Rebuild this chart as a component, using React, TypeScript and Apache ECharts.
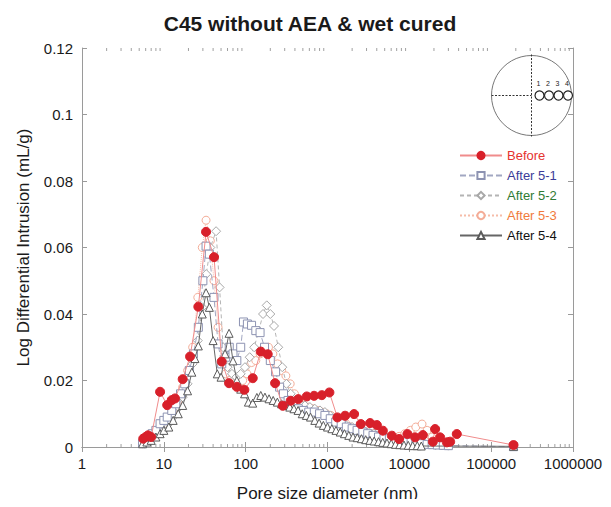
import React, { useEffect, useRef } from "react";
import * as echarts from "echarts";

// Pore size (nm) / log differential intrusion (mL/g) pairs per test state
const before: [number, number][] = [
  [5.6, 0.0025], [6.0, 0.003], [6.4, 0.0035], [7.0, 0.003], [9.0, 0.0166], [11.0, 0.0126],
  [12.5, 0.0141], [13.7, 0.0146], [17.0, 0.0204], [20.9, 0.0272], [26.4, 0.0422], [32.8, 0.0647],
  [41.1, 0.0571], [51, 0.0257], [62.7, 0.0192], [77.9, 0.0181], [96.4, 0.0172], [122, 0.0207],
  [153, 0.0287], [186, 0.0279], [229, 0.0192], [284, 0.0124], [355, 0.0139], [440, 0.0144],
  [558, 0.0152], [686, 0.0154], [851, 0.0156], [1055, 0.0164], [1321, 0.0089], [1641, 0.0094],
  [2113, 0.0099], [2552, 0.0069], [3318, 0.0072], [4008, 0.0066], [4747, 0.0049], [6110, 0.0034],
  [7500, 0.0024], [9480, 0.0039], [11780, 0.0029], [14630, 0.0036], [19380, 0.0016], [20650, 0.0054],
  [23800, 0.0029], [28750, 0.0014], [31550, 0.0016], [38000, 0.0039], [187500, 0.0006],
];

const after51: [number, number][] = [
  [5.5, 0.001], [6.0, 0.002], [6.5, 0.003], [7.2, 0.004], [8.0, 0.005], [9.0, 0.007], [10, 0.008],
  [11, 0.009], [12.5, 0.011], [14, 0.013], [16, 0.016], [18, 0.019], [20.5, 0.023], [23, 0.028],
  [26.4, 0.036], [30, 0.05], [32.8, 0.0604], [36, 0.058], [41, 0.045], [46, 0.031], [51, 0.025],
  [57, 0.027], [63, 0.03], [70, 0.028], [78, 0.026], [87, 0.03], [94, 0.0376], [105, 0.037],
  [118, 0.0366], [133, 0.035], [150, 0.0344], [170, 0.03], [200, 0.026], [232, 0.0226], [260, 0.018],
  [290, 0.016], [330, 0.014], [380, 0.0125], [440, 0.0115], [510, 0.011], [590, 0.0105], [690, 0.0105],
  [800, 0.01], [930, 0.0095], [1080, 0.0085], [1260, 0.0075], [1470, 0.007], [1700, 0.006],
  [2000, 0.0055], [2300, 0.005], [2700, 0.0045], [3100, 0.004], [3600, 0.0035], [4200, 0.003],
  [4900, 0.0028], [5700, 0.0025], [6600, 0.002], [7700, 0.0018], [9000, 0.0015], [10500, 0.0015],
  [12000, 0.0012], [14000, 0.001], [16500, 0.0008], [19000, 0.0007], [22000, 0.0006], [26000, 0.0005],
  [30000, 0.0004], [187500, 0.0001],
];

const after52: [number, number][] = [
  [5.8, 0.001], [6.5, 0.002], [7.5, 0.003], [8.5, 0.004], [10, 0.005], [11.5, 0.007], [13, 0.009],
  [15, 0.012], [17, 0.015], [19.5, 0.019], [22.5, 0.025], [26, 0.032], [29.5, 0.042], [33, 0.052],
  [37, 0.06], [43.5, 0.0649], [48, 0.048], [53, 0.03], [60, 0.024], [68, 0.022], [77, 0.021],
  [87, 0.022], [98, 0.024], [112, 0.027], [127, 0.03], [145, 0.035], [163, 0.04], [181, 0.0426],
  [200, 0.04], [222, 0.0364], [250, 0.03], [280, 0.024], [315, 0.019], [355, 0.016], [400, 0.014],
  [460, 0.013], [530, 0.0125], [610, 0.012], [700, 0.0115], [810, 0.011], [930, 0.0105], [1080, 0.0095],
  [1250, 0.0085], [1450, 0.0075], [1700, 0.0065], [2000, 0.006], [2350, 0.0055], [2750, 0.005],
  [3200, 0.0045], [3700, 0.004], [4300, 0.0035], [5000, 0.003], [5800, 0.0027], [6800, 0.0024],
  [8000, 0.002], [9400, 0.0018], [11000, 0.0015], [13000, 0.0012], [15000, 0.001], [18000, 0.0008],
  [21000, 0.0006], [25000, 0.0005], [30000, 0.0004],
];

const after53: [number, number][] = [
  [5.5, 0.001], [6.2, 0.002], [7, 0.003], [8, 0.004], [9, 0.005], [10, 0.007], [11.5, 0.009],
  [13, 0.011], [15, 0.014], [17, 0.018], [19.5, 0.023], [22.5, 0.03], [26, 0.045], [29.5, 0.06],
  [32.8, 0.0682], [37, 0.062], [41, 0.05], [46, 0.036], [51, 0.026], [57, 0.022], [64, 0.02],
  [72, 0.019], [81, 0.019], [92, 0.02], [104, 0.022], [118, 0.0254], [133, 0.026], [150, 0.028],
  [170, 0.029], [190, 0.03], [215, 0.028], [245, 0.025], [275, 0.023], [310, 0.0214], [350, 0.019],
  [395, 0.016], [450, 0.014], [510, 0.0125], [580, 0.012], [660, 0.0115], [750, 0.011], [850, 0.0105],
  [970, 0.01], [1100, 0.0095], [1270, 0.0085], [1460, 0.0075], [1680, 0.007], [1950, 0.006],
  [2250, 0.0055], [2600, 0.005], [3000, 0.0045], [3500, 0.004], [4000, 0.0035], [4700, 0.003],
  [5500, 0.0028], [6400, 0.003], [7500, 0.0032], [8800, 0.004], [10300, 0.005], [12000, 0.006],
  [14300, 0.0069], [16500, 0.005], [19000, 0.003], [22000, 0.002], [26000, 0.0012], [30000, 0.0008],
];

const after54: [number, number][] = [
  [5.5, 0.001], [6.2, 0.0015], [7, 0.002], [8, 0.003], [9, 0.004], [10, 0.005], [11.5, 0.006],
  [13, 0.008], [15, 0.01], [17, 0.0125], [19.5, 0.0169], [22, 0.0225], [24, 0.0266], [26.4, 0.0304],
  [29.5, 0.04], [32.8, 0.0464], [36, 0.042], [40, 0.032], [45, 0.022], [50, 0.021], [56, 0.028],
  [62.7, 0.0342], [70, 0.0259], [78, 0.02], [87, 0.0174], [97, 0.016], [108, 0.0135], [122, 0.0132],
  [137, 0.0149], [153, 0.0155], [172, 0.015], [193, 0.0145], [217, 0.014], [244, 0.0135], [274, 0.013],
  [308, 0.0125], [346, 0.012], [389, 0.0115], [437, 0.011], [491, 0.01], [552, 0.0095], [620, 0.009],
  [700, 0.008], [790, 0.0072], [890, 0.0065], [1000, 0.006], [1130, 0.0055], [1270, 0.005],
  [1430, 0.0045], [1610, 0.004], [1820, 0.0035], [2050, 0.003], [2310, 0.0028], [2600, 0.0025],
  [2930, 0.0022], [3300, 0.002], [3720, 0.0018], [4200, 0.0016], [4730, 0.0014], [5330, 0.0012],
  [6000, 0.001], [6770, 0.0008], [7630, 0.0007], [8600, 0.0006], [9700, 0.0005], [11000, 0.0004],
  [12500, 0.0004], [14000, 0.0003], [187500, 0.0002],
];

const seriesNames = ["Before", "After 5-1", "After 5-2", "After 5-3", "After 5-4"];
const legendTextColors = ["#e5332f", "#3b3c98", "#2f7a34", "#f07a3c", "#111111"];
const yTicks = [0, 0.02, 0.04, 0.06, 0.08, 0.1, 0.12];
const xDecades = [1, 10, 100, 1000, 10000, 100000, 1000000];

// Minor tick positions at 2..9 of each decade
const minorTicks: number[] = [];
for (let d = 0; d < xDecades.length - 1; d++) {
  for (let k = 2; k <= 9; k++) minorTicks.push(xDecades[d] * k);
}

const FONT = "Liberation Sans, Arial, sans-serif";

export default function App() {
  const ref = useRef<HTMLDivElement>(null);

  useEffect(() => {
    if (!ref.current) return;
    const chart = echarts.init(ref.current, undefined, { renderer: "svg" });

    const axisLine = { show: true, lineStyle: { color: "#9a9a9a", width: 1 } };
    const tick = { show: true, inside: true, length: 5, lineStyle: { color: "#9a9a9a" } };

    const mkLine = (
      name: string,
      data: [number, number][],
      symbol: string,
      size: number,
      color: string,
      fill: string,
      lineColor: string,
      lineType: any,
      z: number
    ) => ({
      name,
      type: "line",
      data,
      symbol,
      symbolSize: size,
      showSymbol: true,
      z,
      itemStyle: { color: fill, borderColor: color, borderWidth: 1 },
      lineStyle: { color: lineColor, width: 1, type: lineType },
      emphasis: { disabled: true },
    });

    chart.setOption({
      animation: false,
      backgroundColor: "#ffffff",
      title: {
        text: "C45 without AEA & wet cured",
        left: 305,
        top: 8,
        textAlign: "center",
        textStyle: { fontFamily: FONT, fontSize: 21, fontWeight: "bold", color: "#1a1a1a" },
      },
      grid: { left: 82, right: 38, top: 48, bottom: 59, containLabel: false },
      legend: {
        left: 454,
        top: 144,
        orient: "vertical",
        itemGap: 7,
        itemWidth: 42,
        itemHeight: 9,
        textStyle: { fontFamily: FONT, fontSize: 13 },
        data: seriesNames.map((n, i) => ({ name: n, textStyle: { color: legendTextColors[i] } })),
      },
      xAxis: [
        {
          type: "log",
          logBase: 10,
          min: 1,
          max: 1000000,
          position: "bottom",
          name: "Pore size diameter (nm)",
          nameLocation: "middle",
          nameGap: 38,
          nameTextStyle: { fontFamily: FONT, fontSize: 17, color: "#1a1a1a" },
          axisLine,
          axisTick: tick,
          splitLine: { show: false },
          axisLabel: {
            fontFamily: FONT,
            fontSize: 15,
            color: "#1a1a1a",
            margin: 9,
            formatter: (v: number) => String(Math.round(v)),
          },
        },
        {
          type: "log",
          logBase: 10,
          min: 1,
          max: 1000000,
          position: "top",
          axisLine,
          axisTick: tick,
          axisLabel: { show: false },
          splitLine: { show: false },
        },
      ],
      yAxis: [
        {
          type: "value",
          min: 0,
          max: 0.12,
          interval: 0.02,
          position: "left",
          name: "Log Differential Intrusion (mL/g)",
          nameLocation: "middle",
          nameGap: 50,
          nameTextStyle: { fontFamily: FONT, fontSize: 17, color: "#1a1a1a" },
          axisLine,
          axisTick: tick,
          splitLine: { show: false },
          axisLabel: {
            fontFamily: FONT,
            fontSize: 15,
            color: "#1a1a1a",
            margin: 9,
            formatter: (v: number) => {
              const t = yTicks.find((y) => Math.abs(y - v) < 1e-9);
              return String(t ?? v);
            },
          },
        },
        {
          type: "value",
          min: 0,
          max: 0.12,
          interval: 0.02,
          position: "right",
          axisLine,
          axisTick: tick,
          axisLabel: { show: false },
          splitLine: { show: false },
        },
      ],
      series: [
        {
          type: "custom",
          name: "minor",
          silent: true,
          clip: false,
          z: 1,
          data: minorTicks.map((m) => [m]),
          encode: { x: 0 },
          renderItem: (_params: any, api: any) => {
            const x = api.value(0);
            const b = api.coord([x, 0]);
            const t = api.coord([x, 0.12]);
            const style = { stroke: "#a0a0a0", lineWidth: 1 };
            return {
              type: "group",
              children: [
                { type: "line", shape: { x1: b[0], y1: b[1], x2: b[0], y2: b[1] - 3 }, style },
                { type: "line", shape: { x1: t[0], y1: t[1], x2: t[0], y2: t[1] + 3 }, style },
              ],
            };
          },
        },
        mkLine("After 5-3", after53, "circle", 8, "#f4ad98", "#ffffff", "#f6bca8", "dotted", 3),
        mkLine("After 5-2", after52, "diamond", 9, "#a8a8a8", "#ffffff", "#b4b4b4", [4, 3], 4),
        mkLine("After 5-1", after51, "rect", 8, "#8d93b2", "#ffffff", "#a2a7c2", [6, 3], 5),
        mkLine("After 5-4", after54, "triangle", 8, "#5a5a5a", "#ffffff", "#666666", "solid", 6),
        mkLine("Before", before, "circle", 9, "#d8202a", "#d8202a", "#f08c8c", "solid", 7),
      ],
      graphic: [
        {
          type: "group",
          left: 489,
          top: 52,
          children: [
            {
              type: "circle",
              shape: { cx: 40, cy: 41, r: 40 },
              style: { fill: "none", stroke: "#777", lineWidth: 1 },
            },
            {
              type: "line",
              shape: { x1: 40, y1: 0, x2: 40, y2: 82 },
              style: { stroke: "#333", lineWidth: 1, lineDash: [2, 1.5] },
            },
            {
              type: "line",
              shape: { x1: 0, y1: 41, x2: 40, y2: 41 },
              style: { stroke: "#333", lineWidth: 1, lineDash: [2, 1.5] },
            },
            ...[0, 1, 2, 3].map((i) => ({
              type: "circle",
              shape: { cx: 48 + i * 9.5, cy: 41, r: 4.5 },
              style: { fill: "#fff", stroke: "#222", lineWidth: 1.2 },
            })),
            ...[0, 1, 2, 3].map((i) => ({
              type: "text",
              style: {
                text: String(i + 1),
                x: 47 + i * 9.5,
                y: 29,
                fontSize: 7,
                fontFamily: FONT,
                fill: "#222",
                align: "center",
                verticalAlign: "middle",
              },
            })),
          ],
        },
      ],
    });

    return () => chart.dispose();
  }, []);

  return <div ref={ref} style={{ width: 611, height: 507, margin: -8 }} />;
}
